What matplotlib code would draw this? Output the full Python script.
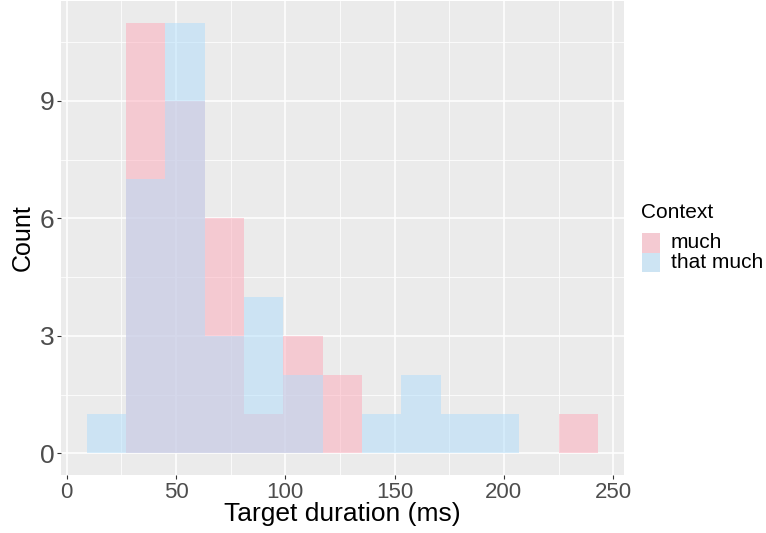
import numpy as np
import matplotlib
matplotlib.use("Agg")
import matplotlib.pyplot as plt
from matplotlib.patches import Rectangle

plt.rcParams['font.family'] = ['Liberation Sans', 'DejaVu Sans']

bin_edges = [9.1, 27.1, 45.1, 63.1, 81.1, 99.1, 117.1, 135.1, 153.1, 171.1, 189.1, 207.1, 225.1, 243.1]
much = [0, 11, 9, 6, 1, 3, 2, 0, 0, 0, 0, 0, 1]
that_much = [1, 7, 11, 3, 4, 2, 0, 1, 2, 1, 1, 0, 0]
groups = ["much", "that much"]
x_ticks = [0, 50, 100, 150, 200, 250]
y_ticks = [0, 3, 6, 9]

pink = np.array([253, 169, 185]) / 255
blue = np.array([175, 221, 251]) / 255
bgv = np.array([235, 235, 235]) / 255
bg = "#EBEBEB"

W, H = 766, 533
fig = plt.figure(figsize=(W / 100, H / 100), dpi=100)
ax_l, ax_r, ax_t, ax_b = 61, 623.7, 1, 475
ax = fig.add_axes([ax_l / W, (H - ax_b) / H, (ax_r - ax_l) / W, (ax_b - ax_t) / H])
ax.set_facecolor(bg)

edges = np.array(bin_edges)
lefts = edges[:-1]
widths = np.diff(edges)
ax.bar(lefts, much, width=widths, align='edge', color=pink, alpha=0.5, linewidth=0, zorder=3)
ax.bar(lefts, that_much, width=widths, align='edge', color=blue, alpha=0.5, linewidth=0, zorder=4)

xr = edges[-1] - edges[0]
ax.set_xlim(edges[0] - 0.05 * xr, edges[-1] + 0.05 * xr)
ymax = max(max(much), max(that_much))
ax.set_ylim(-0.05 * ymax, ymax * 1.05)

ax.set_xticks(x_ticks)
ax.set_yticks(y_ticks)
ax.set_xticks([25, 75, 125, 175, 225], minor=True)
ax.set_yticks([1.5, 4.5, 7.5, 10.5], minor=True)
ax.grid(which='major', color='white', linewidth=1.1, zorder=1)
ax.grid(which='minor', color='white', linewidth=0.55, zorder=1)
ax.set_axisbelow(True)
for s in ax.spines.values():
    s.set_visible(False)
ax.tick_params(which='major', length=2.9, width=0.8, color='#333333', labelcolor='#4D4D4D', pad=2)
ax.tick_params(axis='x', which='major', labelsize=16)
ax.tick_params(axis='y', which='major', labelsize=19)
ax.tick_params(which='minor', length=0)

ax.set_xlabel("Target duration (ms)", fontsize=19, color='black', va='center', ha='center')
ax.xaxis.set_label_coords(0.5, (ax_b - 514) / (ax_b - ax_t))
ax.set_ylabel("Count", fontsize=18, color='black', va='center', ha='center')
ax.yaxis.set_label_coords((22.5 - ax_l) / (ax_r - ax_l), 0.5)

# legend (drawn manually)
def fx(px):
    return px / W

def fy(py):
    return 1 - py / H

fig.text(fx(641.5), fy(213), "Context", fontsize=15, va='center', ha='left', color='black')
key_tops = [233.3, 252.6]
for col, label, top in zip([pink, blue], groups, key_tops):
    comp = 0.5 * col + 0.5 * bgv
    fig.patches.append(Rectangle((fx(641.7), fy(top + 19.3)), 18.5 / W, 19.3 / H,
                                 transform=fig.transFigure, facecolor=comp, edgecolor='none'))
    fig.text(fx(670.7), fy(top + 9.6), label, fontsize=15, va='center', ha='left', color='black')

fig.savefig("out.png", dpi=100)
